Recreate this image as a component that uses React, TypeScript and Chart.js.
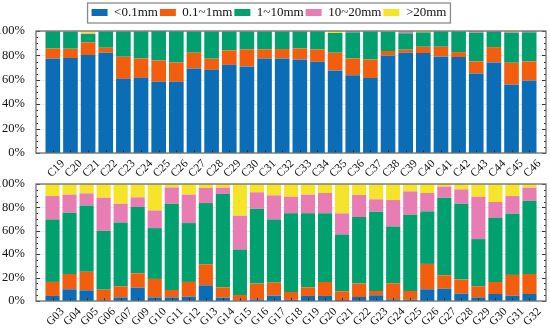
import React, { useEffect, useRef } from "react";
import { Chart, registerables } from "chart.js";

Chart.register(...registerables);

const seriesNames = ["<0.1mm", "0.1~1mm", "1~10mm", "10~20mm", ">20mm"];
const seriesColors = ["#0a6db5", "#f25e0d", "#00a06f", "#e87db4", "#f5e42a"];

const topCategories = [
  "C19", "C20", "C21", "C22", "C23", "C24", "C25", "C26", "C27", "C28",
  "C29", "C30", "C31", "C32", "C33", "C34", "C35", "C36", "C37", "C38",
  "C39", "C40", "C41", "C42", "C43", "C44", "C45", "C46",
];
const topBlue = [77.5, 77.8, 80.3, 82.2, 60.8, 61.6, 58.4, 58.4, 69.3, 68.2, 72.3, 71.0, 77.5, 77.5, 76.7, 74.8, 67.7, 63.8, 61.4, 80.0, 82.2, 81.9, 79.2, 78.6, 65.2, 74.2, 56.2, 59.5];
const topOrange = [8.3, 7.7, 10.4, 4.1, 18.1, 15.9, 17.5, 15.8, 12.9, 9.1, 11.8, 13.9, 7.5, 7.7, 9.1, 10.1, 14.5, 13.7, 15.3, 3.6, 2.5, 5.2, 7.9, 4.1, 9.9, 12.6, 17.8, 15.6];
const topGreen = [13.9, 13.7, 6.8, 13.2, 20.6, 21.9, 24.0, 25.5, 17.0, 21.9, 15.4, 14.6, 14.5, 14.2, 13.6, 14.8, 16.2, 21.4, 22.8, 15.8, 13.4, 11.8, 12.3, 16.9, 23.5, 12.4, 24.6, 23.8];
const topPink = [0.3, 0.6, 0.5, 0.3, 0.3, 0.6, 0.1, 0.2, 0.8, 0.8, 0.3, 0.2, 0.3, 0.4, 0.4, 0.2, 0.0, 1.1, 0.3, 0.0, 1.5, 0.0, 0.6, 0.2, 1.4, 0.8, 0.7, 1.1];
const topYellow = [0.0, 0.2, 2.0, 0.2, 0.2, 0.0, 0.0, 0.1, 0.0, 0.0, 0.2, 0.3, 0.2, 0.2, 0.2, 0.1, 1.6, 0.0, 0.2, 0.6, 0.4, 1.1, 0.0, 0.2, 0.0, 0.0, 0.7, 0.0];

const bottomCategories = [
  "G03", "G04", "G05", "G06", "G07", "G09", "G10", "G11", "G12", "G13",
  "G14", "G15", "G16", "G17", "G18", "G19", "G20", "G21", "G22", "G23",
  "G24", "G25", "G26", "G27", "G28", "G29", "G30", "G31", "G32",
];
const bottomBlue = [4.3, 10.0, 9.1, 0.6, 3.1, 11.4, 3.1, 3.1, 3.7, 13.4, 2.9, 0.3, 1.4, 4.6, 1.1, 4.3, 4.3, 0.9, 3.4, 4.9, 1.4, 1.1, 10.0, 10.6, 6.3, 3.1, 6.0, 4.6, 6.0];
const bottomOrange = [12.0, 13.1, 16.0, 9.1, 9.5, 12.3, 15.8, 6.3, 12.6, 18.0, 8.8, 4.8, 13.5, 11.1, 6.6, 7.4, 12.0, 7.4, 11.5, 3.7, 13.7, 7.5, 21.7, 11.4, 12.0, 9.5, 10.3, 17.7, 17.1];
const bottomGreen = [53.4, 52.3, 56.6, 50.3, 54.5, 56.6, 43.4, 73.7, 50.3, 52.3, 79.7, 38.9, 64.0, 54.0, 67.2, 63.2, 58.8, 48.6, 56.8, 67.7, 48.6, 65.1, 44.9, 66.3, 64.8, 40.3, 54.8, 52.3, 62.6];
const bottomPink = [20.0, 15.5, 10.3, 28.3, 16.0, 8.3, 15.1, 14.0, 24.3, 12.9, 5.5, 28.9, 14.0, 20.6, 14.2, 16.0, 17.2, 18.0, 18.9, 10.6, 22.6, 20.0, 15.7, 9.4, 12.3, 36.2, 13.5, 15.1, 11.2];
const bottomYellow = [10.3, 9.1, 8.0, 11.7, 16.9, 11.4, 22.6, 2.9, 9.1, 3.4, 3.1, 27.1, 7.1, 9.7, 10.9, 9.1, 7.7, 25.1, 9.4, 13.1, 13.7, 6.3, 7.7, 2.3, 4.6, 10.9, 15.4, 10.3, 3.1];

const yTicks = [0, 20, 40, 60, 80, 100];
const FONT = "'Liberation Serif', 'DejaVu Serif', serif";
const FRAME_EXT = 8;

const framePlugin = {
  id: "frameAndTicks",
  beforeUpdate(chart: any) {
    const lg = chart.legend;
    const extra = chart.options.plugins?.frameAndTicks?.legendExtra || 0;
    if (lg && !lg._patched) {
      const orig = lg.fit.bind(lg);
      lg.fit = function () {
        orig();
        if (this.options.display) this.height += extra;
      };
      lg._patched = true;
    }
  },
  beforeDatasetsDraw(chart: any) {
    const { ctx, chartArea: a, scales } = chart;
    const l = a.left - FRAME_EXT;
    const r = a.right + FRAME_EXT;
    ctx.save();
    ctx.strokeStyle = "#ebebeb";
    ctx.lineWidth = 1;
    for (const v of yTicks) {
      const py = Math.round(scales.y.getPixelForValue(v)) + 0.5;
      ctx.beginPath();
      ctx.moveTo(l, py);
      ctx.lineTo(r, py);
      ctx.stroke();
    }
    ctx.restore();
  },
  afterDatasetsDraw(chart: any) {
    const { ctx, chartArea: a, scales } = chart;
    const l = a.left - FRAME_EXT;
    const r = a.right + FRAME_EXT;
    ctx.save();
    ctx.strokeStyle = "#333";
    ctx.lineWidth = 1;
    const y = scales.y;
    for (let v = 0; v <= 100; v += 5) {
      const py = Math.round(y.getPixelForValue(v)) + 0.5;
      const len = v % 20 === 0 ? 4 : 2;
      ctx.beginPath();
      ctx.moveTo(l, py);
      ctx.lineTo(l + len, py);
      ctx.moveTo(r, py);
      ctx.lineTo(r - len, py);
      ctx.stroke();
    }
    const x = scales.x;
    for (let i = 0; i < x.ticks.length; i++) {
      const px = Math.round(x.getPixelForTick(i)) + 0.5;
      ctx.beginPath();
      ctx.moveTo(px, a.bottom);
      ctx.lineTo(px, a.bottom - 3);
      ctx.stroke();
    }
    ctx.restore();
  },
  afterDraw(chart: any) {
    const { ctx, chartArea: a } = chart;
    ctx.save();
    ctx.strokeStyle = "#707070";
    ctx.lineWidth = 1.3;
    ctx.strokeRect(a.left - FRAME_EXT, a.top, a.right - a.left + 2 * FRAME_EXT, a.bottom - a.top);
    const lg = chart.legend;
    if (lg && lg.options.display && lg.legendHitBoxes && lg.legendHitBoxes.length) {
      const hb = lg.legendHitBoxes;
      const l = hb[0].left - 4;
      const last = hb[hb.length - 1];
      const r = last.left + last.width + 4;
      const t = hb[0].top - 3;
      const b = hb[0].top + hb[0].height + 4;
      ctx.strokeStyle = "#8a8a8a";
      ctx.lineWidth = 1.3;
      ctx.strokeRect(l, t, r - l, b - t);
    }
    ctx.restore();
  },
};

function makeConfig(
  labels: string[],
  data: number[][],
  showLegend: boolean,
  padTop: number,
  xHeight: number,
  chartBottomPad: number
): any {
  return {
    type: "bar",
    data: {
      labels,
      datasets: seriesNames.map((name, i) => ({
        label: name,
        data: data[i],
        backgroundColor: seriesColors[i],
        borderWidth: 0,
        barPercentage: 0.83,
        categoryPercentage: 1,
      })),
    },
    options: {
      animation: false,
      responsive: false,
      maintainAspectRatio: false,
      layout: { padding: { top: padTop, left: 0, right: 4 + FRAME_EXT, bottom: chartBottomPad } },
      plugins: {
        frameAndTicks: { legendExtra: 2 },
        tooltip: { enabled: false },
        legend: {
          display: showLegend,
          position: "top",
          labels: {
            boxWidth: 16,
            boxHeight: 7,
            padding: 2,
            color: "#111",
            font: { family: FONT, size: 13 },
          },
        },
      },
      scales: {
        x: {
          stacked: true,
          offset: true,
          grid: { display: false },
          border: { display: false },
          afterFit: (s: any) => {
            s.height = xHeight;
          },
          ticks: {
            autoSkip: false,
            minRotation: 45,
            maxRotation: 45,
            padding: -4,
            labelOffset: 10,
            color: "#111",
            font: { family: FONT, size: 11.5 },
          },
        },
        y: {
          stacked: true,
          min: 0,
          max: 100,
          afterFit: (s: any) => {
            s.width = 36 + FRAME_EXT;
            s.paddingTop = 0;
            s.paddingBottom = 0;
          },
          afterBuildTicks: (s: any) => {
            s.ticks = yTicks.map((v) => ({ value: v }));
          },
          grid: { display: false },
          border: { display: false },
          ticks: {
            padding: 3 + FRAME_EXT,
            color: "#111",
            font: { family: FONT, size: 12.5 },
            callback: (v: any) => v + "%",
          },
        },
      },
    },
    plugins: [framePlugin],
  };
}

function ChartCanvas(props: {
  labels: string[];
  data: number[][];
  legend: boolean;
  padTop: number;
  xHeight: number;
  bottomPad: number;
  top: number;
  height: number;
}) {
  const ref = useRef<HTMLCanvasElement | null>(null);
  useEffect(() => {
    if (!ref.current) return;
    const chart = new Chart(
      ref.current,
      makeConfig(props.labels, props.data, props.legend, props.padTop, props.xHeight, props.bottomPad)
    );
    return () => chart.destroy();
  }, []);
  return (
    <canvas
      ref={ref}
      width={550}
      height={props.height}
      style={{ position: "absolute", left: 0, top: props.top, width: 550, height: props.height }}
    />
  );
}

export default function App() {
  useEffect(() => {
    document.body.style.margin = "0";
  }, []);
  return (
    <div style={{ position: "fixed", left: 0, top: 0, width: 550, height: 331, background: "#fff" }}>
      <ChartCanvas
        labels={topCategories}
        data={[topBlue, topOrange, topGreen, topPink, topYellow]}
        legend={true}
        padTop={4}
        xHeight={40}
        bottomPad={1}
        top={0}
        height={194}
      />
      <ChartCanvas
        labels={bottomCategories}
        data={[bottomBlue, bottomOrange, bottomGreen, bottomPink, bottomYellow]}
        legend={false}
        padTop={12}
        xHeight={30}
        bottomPad={0}
        top={172}
        height={159}
      />
    </div>
  );
}
